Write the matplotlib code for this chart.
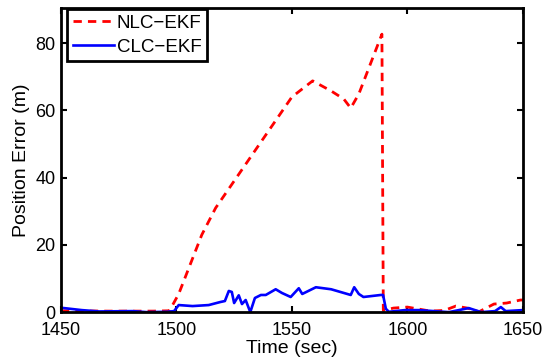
import matplotlib
matplotlib.use("Agg")
import matplotlib.pyplot as plt

plt.rcParams['font.family'] = ['Liberation Sans', 'DejaVu Sans']

# NLC-EKF (red dashed)
nlc_t = [1450, 1470, 1490, 1497, 1501, 1511, 1517, 1521, 1527, 1536, 1543, 1550,
         1559, 1567, 1572.5, 1575.5, 1579, 1584.5, 1589, 1589.6, 1594, 1600,
         1610, 1616, 1621, 1626, 1631, 1637.5, 1643, 1649, 1650]
nlc_v = [0.4, 0.3, 0.3, 0.4, 5.4, 23, 31, 35, 41, 50, 57, 64,
         68.8, 65.8, 63.4, 60.7, 64.9, 74.7, 82.7, 0.5, 1.2, 1.5,
         0.3, 0.5, 1.8, 1.2, 0.1, 2.4, 2.7, 3.6, 3.6]

# CLC-EKF (blue solid)
clc_t = [1450, 1459, 1466.5, 1481, 1487, 1496, 1499, 1501, 1507, 1514, 1519, 1521,
         1522.7, 1524, 1525, 1527, 1528.4, 1530, 1532, 1534, 1536.6, 1538.7, 1543,
         1545.7, 1549.5, 1553, 1554.5, 1560.4, 1567, 1575.5, 1577, 1579, 1581,
         1588.5, 1589.5, 1590.7, 1592, 1599, 1605, 1618, 1626.6, 1632, 1638,
         1640.5, 1642.6, 1650]
clc_v = [1.3, 0.6, 0.2, 0.3, 0.0, 0.1, 0.3, 2.1, 1.8, 2.1, 3.0, 3.3,
         6.3, 6.0, 2.7, 5.0, 2.4, 3.6, 0.0, 4.2, 5.1, 5.1, 6.8,
         5.7, 4.5, 7.1, 5.4, 7.4, 6.8, 5.1, 7.4, 5.4, 4.5,
         5.1, 5.1, 1.0, 0.1, 0.6, 0.6, 0.0, 1.2, 0.0, 0.3,
         1.5, 0.3, 0.6]

fig = plt.figure(figsize=(5.44, 3.6), dpi=100)
ax = fig.add_axes([0.112, 0.133, 0.849, 0.844])

ax.plot(nlc_t, nlc_v, color='#ff0000', linestyle='--', linewidth=2.0,
        dashes=(3, 2.2), label='NLC\u2212EKF')
ax.plot(clc_t, clc_v, color='#0000ff', linewidth=1.9, label='CLC\u2212EKF')

ax.set_xlim(1450, 1650)
ax.set_ylim(0, 90.4)
ax.set_xticks([1450, 1500, 1550, 1600, 1650])
ax.set_yticks([0, 20, 40, 60, 80])
ax.set_xlabel('Time (sec)', fontsize=14, labelpad=1)
ax.set_ylabel('Position Error (m)', fontsize=14, labelpad=4)
ax.tick_params(direction='in', top=True, right=True, labelsize=13,
               width=1.5, length=4)
ax.tick_params(axis='x', pad=7)
ax.tick_params(axis='y', pad=4)
for s in ax.spines.values():
    s.set_linewidth(2)

leg = ax.legend(loc='upper left', bbox_to_anchor=(6 / 462, 1 - 1 / 304),
                fontsize=13.5, fancybox=False, framealpha=1,
                edgecolor='black', handlelength=2.2, borderpad=0.3,
                labelspacing=0.35, handletextpad=0.15, borderaxespad=0)
leg.get_frame().set_linewidth(2)

fig.savefig('out.png', dpi=100)
